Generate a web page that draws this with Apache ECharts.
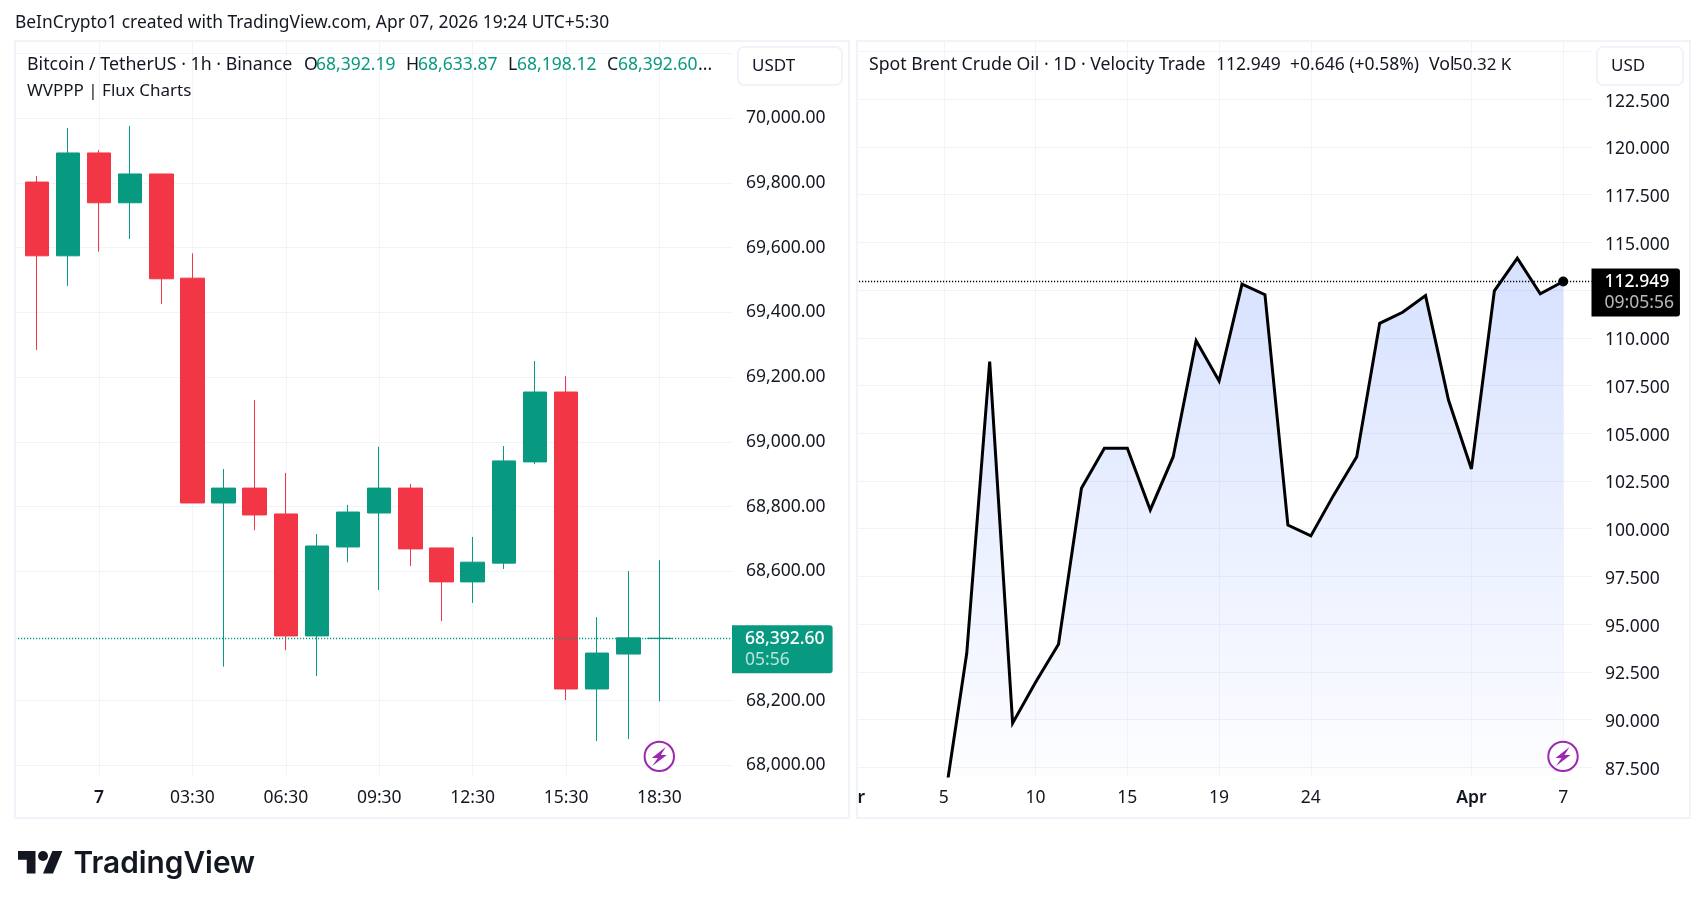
<!DOCTYPE html>
<html>
<head>
<meta charset="utf-8">
<title>BTC vs Brent</title>
<script src="https://cdn.jsdelivr.net/npm/echarts@6/dist/echarts.min.js"></script>
<style>
html, body { margin: 0; padding: 0; background: #fff; }
#main { width: 1705px; height: 908px; }
</style>
</head>
<body>
<div id="main"></div>
<script>
// Bitcoin / TetherUS, 1h candles
var btcIndex = [0, 1, 2, 3, 4, 5, 6, 7, 8, 9, 10, 11, 12, 13, 14, 15, 16, 17, 18, 19, 20];
var btcOpen = [69803, 69575, 69893, 69739, 69828, 69506, 68811, 68857, 68777, 68400, 68675, 68780, 68857, 68672, 68567, 68625, 68938, 69154, 68236, 68344, 68392.19];
var btcClose = [69575, 69893, 69739, 69828, 69504, 68811, 68857, 68774, 68400, 68678, 68783, 68857, 68669, 68567, 68628, 68941, 69154, 68236, 68347, 68394, 68392.60];
var btcLow = [69284, 69482, 69588, 69627, 69426, 68811, 68305, 68727, 68356, 68276, 68628, 68542, 68616, 68446, 68502, 68607, 68931, 68202, 68075, 68081, 68198.12];
var btcHigh = [69822, 69970, 69902, 69976, 69828, 69583, 68916, 69129, 68904, 68715, 68805, 68985, 68870, 68672, 68706, 68987, 69250, 69203, 68458, 68600, 68633.87];
var btcTimeTicks = [2, 5, 8, 11, 14, 17, 20];
var btcTimeLabels = ['{b|7}', '03:30', '06:30', '09:30', '12:30', '15:30', '18:30'];
var btcPriceTicks = [68000, 68200, 68400, 68600, 68800, 69000, 69200, 69400, 69600, 69800, 70000];
var btcPriceGrid = [68000, 68200, 68600, 68800, 69000, 69200, 69400, 69600, 69800, 70000, 70200];
var btcLast = 68392.60;

// Spot Brent Crude Oil, daily close
var brentIndex = [0, 1, 2, 3, 4, 5, 6, 7, 8, 9, 10, 11, 12, 13, 14, 15, 16, 17, 18, 19, 20, 21, 22, 23, 24, 25, 26, 27];
var brentClose = [85.45, 93.47, 108.75, 89.81, 91.95, 93.94, 102.12, 104.21, 104.21, 100.98, 103.77, 109.85, 107.74, 112.81, 112.26, 100.19, 99.62, 101.77, 103.77, 110.76, 111.34, 112.21, 106.74, 103.13, 112.46, 114.17, 112.31, 112.949];
var brentDateTicks = [-4, 0, 4, 8, 12, 16, 23, 27];
var brentDateLabels = ['{m|Mar}', '5', '10', '15', '19', '24', '{b|Apr}', '7'];
var brentPriceTicks = [87.5, 90, 92.5, 95, 97.5, 100, 102.5, 105, 107.5, 110, 112.5, 115, 117.5, 120, 122.5];
var brentPriceGrid = [87.5, 90, 92.5, 95, 97.5, 100, 102.5, 105, 107.5, 110, 112.5, 115, 117.5, 120, 122.5, 125];
var brentLast = 112.949;

var FONT = '"Noto Sans", sans-serif';
var TEXT = '#131722', GREEN = '#089981', RED = '#F23645', GRID = '#f0f3fa', PURPLE = '#9c27b0';
var SIZE = 17.5, LEGEND = 17.7;

function txt(x, y, s, color, size, weight) {
	return { type: 'text', x: x, y: y, z: 110, silent: true, style: {
		text: s, fill: color || TEXT, font: (weight || 400) + ' ' + (size || LEGEND) + 'px ' + FONT,
		textVerticalAlign: 'middle', textAlign: 'left' } };
}
function box(x, y, w, h) {
	return { type: 'rect', z: 105, silent: true, shape: { x: x, y: y, width: w, height: h, r: 6 },
		style: { fill: '#fff', stroke: GRID, lineWidth: 2 } };
}
function panel(x, y, w, h) {
	return { type: 'rect', z: 102, silent: true, shape: { x: x, y: y, width: w, height: h },
		style: { fill: 'none', stroke: GRID, lineWidth: 2 } };
}
function bolt(cx, cy) {
	return [
		{ type: 'circle', z: 106, silent: true, shape: { cx: cx, cy: cy, r: 14.7 },
			style: { fill: '#fff', stroke: PURPLE, lineWidth: 2 } },
		{ type: 'polygon', z: 107, silent: true, shape: { points: [
			[cx + 6.5, cy - 9.5], [cx - 7.5, cy + 1.5], [cx - 1.5, cy + 1.5], [cx - 7, cy + 9.5], [cx + 7.5, cy - 1.5], [cx + 1.5, cy - 1.5]
		] }, style: { fill: PURPLE } }
	];
}
function logoPts(pts) {
	return pts.map(function(p) { return [18 + p[0] * 1.25, 846 + p[1] * 1.25]; });
}

var graphics = [
	// clips the month label of the right time scale at the panel edge
	{ type: 'rect', z: 100, silent: true, shape: { x: 850, y: 0, width: 6.5, height: 908 }, style: { fill: '#fff' } },
	{ type: 'rect', z: 100, silent: true, shape: { x: 825, y: 782, width: 33, height: 34 }, style: { fill: '#fff' } },
	panel(15, 41, 834, 777),
	panel(857, 41, 833, 777),
	box(738, 47, 104, 38),
	box(1597, 47, 86, 38),
	txt(15, 23, 'BeInCrypto1 created with TradingView.com, Apr 07, 2026 19:24 UTC+5:30', TEXT, 17.4),
	txt(27, 65, 'Bitcoin / TetherUS · 1h · Binance', TEXT, 17.8),
	txt(304, 65, 'O'), txt(316, 65, '68,392.19', GREEN, SIZE),
	txt(406, 65, 'H'), txt(418, 65, '68,633.87', GREEN, SIZE),
	txt(508, 65, 'L'), txt(517, 65, '68,198.12', GREEN, SIZE),
	txt(607, 65, 'C'), txt(618, 65, '68,392.60', GREEN, SIZE), txt(698, 65, '...'),
	txt(27, 91, 'WVPPP | Flux Charts', TEXT, 17),
	txt(752, 66, 'USDT', TEXT, 17),
	txt(869, 65, 'Spot Brent Crude Oil · 1D · Velocity Trade'),
	txt(1216, 65, '112.949', TEXT, SIZE), txt(1290, 65, '+0.646 (+0.58%)', TEXT, SIZE),
	txt(1429, 65, 'Vol'), txt(1453, 65, '50.32 K', TEXT, 17),
	txt(1611, 66, 'USD', TEXT, 17),
	// TradingView wordmark
	{ type: 'polygon', z: 110, silent: true, shape: { points: logoPts([[0, 4], [14, 4], [14, 22], [7, 22], [7, 11], [0, 11]]) }, style: { fill: TEXT } },
	{ type: 'circle', z: 110, silent: true, shape: { cx: 18 + 20 * 1.25, cy: 846 + 8 * 1.25, r: 5 }, style: { fill: TEXT } },
	{ type: 'polygon', z: 110, silent: true, shape: { points: logoPts([[20, 22], [27.5, 4], [35.5, 4], [28, 22]]) }, style: { fill: TEXT } },
	{ type: 'text', x: 73.5, y: 864.5, z: 110, silent: true, style: { text: 'TradingView', fill: TEXT,
		font: '600 29.8px Inter, sans-serif', textVerticalAlign: 'middle' } }
].concat(bolt(659.3, 756.4), bolt(1563, 756.4));

function lastTag(value, top, bottom, color, xValue, rightPad) {
	return {
		symbol: 'circle', symbolSize: 0,
		data: [{ coord: [xValue, value] }],
		label: {
			show: true, position: 'right', distance: 0, offset: [0, 11],
			formatter: '{a|' + top + '}\n{b|' + bottom + '}',
			backgroundColor: color, padding: [3, rightPad, 3, 13], borderRadius: [0, 3, 3, 0],
			rich: {
				a: { color: '#fff', fontFamily: FONT, fontSize: SIZE, fontWeight: 500, lineHeight: 21 },
				b: { color: 'rgba(255,255,255,0.72)', fontFamily: FONT, fontSize: SIZE, lineHeight: 21 }
			}
		}
	};
}

var timeRich = {
	b: { fontFamily: FONT, fontSize: SIZE, fontWeight: 600, color: TEXT },
	// pushed left so only the tail of the word shows past the panel edge
	m: { fontFamily: FONT, fontSize: SIZE, fontWeight: 600, color: TEXT, padding: [0, 8, 0, 0] }
};

var BTC_MIN = -0.699, BTC_MAX = 22.33;
var BRENT_MIN = -4.089, BRENT_MAX = 28.234;

option = {
	animation: false,
	backgroundColor: '#fff',
	textStyle: { fontFamily: FONT },
	graphic: graphics,
	grid: [
		{ left: 15, top: 42, width: 717, height: 734 },
		{ left: 850, top: 42, width: 741.5, height: 734 }
	],
	xAxis: [ {
		gridIndex: 0, type: 'value', min: BTC_MIN, max: BTC_MAX,
		axisLine: { show: false },
		axisTick: { show: false, customValues: btcTimeTicks },
		splitLine: { show: true, lineStyle: { color: '#f3f4f8', width: 1 } },
		axisLabel: {
			customValues: btcTimeTicks, margin: 13, color: TEXT, fontFamily: FONT, fontSize: SIZE, rich: timeRich,
			formatter: function(v) { return btcTimeLabels[btcTimeTicks.indexOf(v)]; }
		}
	}, {
		gridIndex: 1, type: 'value', min: BRENT_MIN, max: BRENT_MAX,
		axisLine: { show: false },
		axisTick: { show: false, customValues: brentDateTicks },
		splitLine: { show: true, lineStyle: { color: '#f3f4f8', width: 1 } },
		axisLabel: {
			customValues: brentDateTicks, margin: 13, color: TEXT, fontFamily: FONT, fontSize: SIZE, rich: timeRich,
			formatter: function(v) { return brentDateLabels[brentDateTicks.indexOf(v)]; }
		}
	} ],
	yAxis: [ {
		gridIndex: 0, type: 'value', position: 'right', min: 67967, max: 70236,
		axisLine: { show: false },
		axisTick: { show: false, customValues: btcPriceGrid },
		splitLine: { show: true, lineStyle: { color: GRID, width: 1 } },
		axisLabel: {
			customValues: btcPriceTicks, margin: 14, color: TEXT, fontFamily: FONT, fontSize: SIZE,
			padding: [0, 0, 2, 0],
			formatter: function(v) {
				return v.toLocaleString('en-US', { minimumFractionDigits: 2, maximumFractionDigits: 2 });
			}
		}
	}, {
		gridIndex: 1, type: 'value', position: 'right', min: 87.04, max: 125.5,
		axisLine: { show: false },
		axisTick: { show: false, customValues: brentPriceGrid },
		splitLine: { show: true, lineStyle: { color: GRID, width: 1 } },
		axisLabel: {
			customValues: brentPriceTicks, margin: 13.5, color: TEXT, fontFamily: FONT, fontSize: SIZE,
			rich: { v: { fontFamily: FONT, fontSize: SIZE, color: TEXT, padding: [5, 0, 0, 0] } },
			formatter: function(v) { return '{v|' + v.toFixed(3) + '}'; }
		}
	} ],
	series: [ {
		name: 'BTCUSDT',
		type: 'candlestick',
		xAxisIndex: 0, yAxisIndex: 0,
		barWidth: 24,
		encode: { x: 0, y: [1, 2, 3, 4] },
		itemStyle: { color: GREEN, color0: RED, borderColor: GREEN, borderColor0: RED, borderWidth: 1 },
		data: btcIndex.map(function(x, i) {
			return [x, btcOpen[i], btcClose[i], btcLow[i], btcHigh[i]];
		}),
		markLine: {
			silent: true, symbol: 'none', label: { show: false },
			lineStyle: { color: GREEN, type: [1.2, 1.8], width: 1.3 },
			data: [ { yAxis: btcLast } ]
		},
		markPoint: lastTag(btcLast, '68,392.60', '05:56', GREEN, BTC_MAX, 8)
	}, {
		name: 'Brent',
		type: 'line',
		xAxisIndex: 1, yAxisIndex: 1,
		symbol: 'none',
		lineStyle: { color: '#000', width: 3, join: 'miter', miterLimit: 4 },
		areaStyle: {
			origin: 'start',
			opacity: 1,
			color: new echarts.graphic.LinearGradient(0, 0, 0, 1, [
				{ offset: 0, color: 'rgba(41,98,255,0.19)' },
				{ offset: 1, color: 'rgba(41,98,255,0)' }
			])
		},
		data: brentIndex.map(function(x, i) { return [x, brentClose[i]]; }),
		markLine: {
			silent: true, symbol: 'none', label: { show: false },
			lineStyle: { color: '#000', type: [1.2, 1.8], width: 1.3 },
			data: [ { yAxis: brentLast } ]
		},
		markPoint: lastTag(brentLast, '112.949', '09:05:56', '#000', BRENT_MAX, 6)
	}, {
		name: 'Brent last',
		type: 'scatter',
		xAxisIndex: 1, yAxisIndex: 1,
		symbolSize: 10,
		itemStyle: { color: '#000', opacity: 1 },
		data: [ [brentIndex[brentIndex.length - 1], brentLast] ]
	} ]
};

myChart = echarts.init(document.getElementById('main'));
myChart.setOption(option);
</script>
</body>
</html>
